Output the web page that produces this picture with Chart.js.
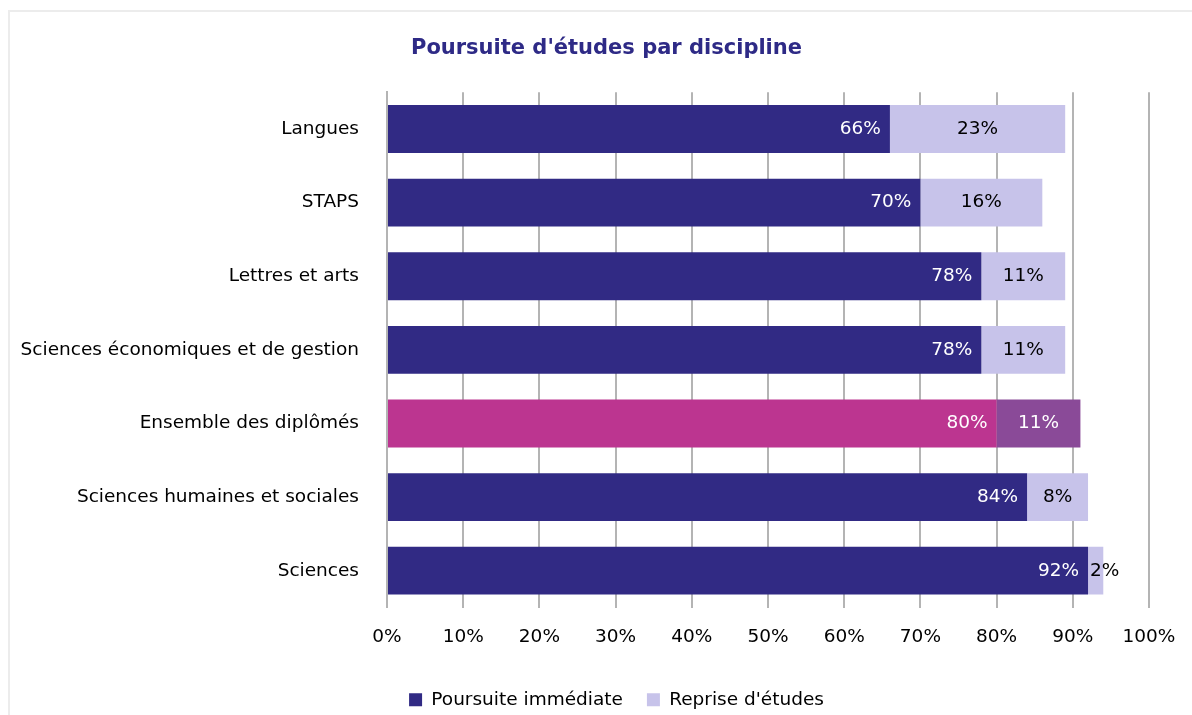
<!DOCTYPE html>
<html>
<head>
<meta charset="utf-8">
<script src="https://cdn.jsdelivr.net/npm/chart.js@4/dist/chart.umd.min.js"></script>
<style>
  body { margin: 0; background: #fff; overflow: hidden; }
  #frame { position: absolute; left: 8px; top: 10px; width: 1200px; height: 720px; border: 2px solid #ececec; }
  #wrap { position: absolute; left: 0; top: 0; width: 1192px; height: 715px; }
</style>
</head>
<body>
<div id="frame"></div>
<div id="wrap"><canvas id="chart"></canvas></div>
<script>
const categories = ['Langues', 'STAPS', 'Lettres et arts', 'Sciences économiques et de gestion',
    'Ensemble des diplômés', 'Sciences humaines et sociales', 'Sciences'];
const immediate = [66, 70, 78, 78, 80, 84, 92];
const reprise = [23, 16, 11, 11, 11, 8, 2];
const xTicks = [0, 10, 20, 30, 40, 50, 60, 70, 80, 90, 100];

const FONT = 'DejaVu Sans';
const SIZE = 18.5;
const navy = '#312a84';
const lavender = '#c7c3ea';

// "Ensemble" row gets its own colours
const immColors = categories.map(c => c === 'Ensemble des diplômés' ? '#bc3590' : navy);
const repColors = categories.map(c => c === 'Ensemble des diplômés' ? '#8a4a98' : lavender);

// value labels: first series right-aligned inside, second centered (or after bar start if too narrow)
const barLabels = {
    id: 'barLabels',
    afterDatasetsDraw(chart) {
        const ctx = chart.ctx;
        ctx.save();
        ctx.font = SIZE + 'px ' + FONT;
        ctx.textBaseline = 'middle';
        chart.data.datasets.forEach((ds, di) => {
            const meta = chart.getDatasetMeta(di);
            meta.data.forEach((bar, i) => {
                const txt = ds.data[i] + '%';
                const w = ctx.measureText(txt).width;
                const left = Math.min(bar.x, bar.base), right = Math.max(bar.x, bar.base);
                if (di === 0) {
                    ctx.fillStyle = '#ffffff';
                    ctx.textAlign = 'right';
                    ctx.fillText(txt, right - 9, bar.y);
                } else {
                    const isEns = categories[i] === 'Ensemble des diplômés';
                    ctx.fillStyle = isEns ? '#ffffff' : '#000000';
                    if (w + 6 > right - left) {
                        ctx.textAlign = 'left';
                        ctx.fillText(txt, left + 2, bar.y);
                    } else {
                        ctx.textAlign = 'center';
                        ctx.fillText(txt, (left + right) / 2, bar.y);
                    }
                }
            });
        });
        ctx.restore();
    }
};

// title and legend sit a bit right of the canvas centre in the original
const shiftBoxes = {
    id: 'shiftBoxes',
    afterLayout(chart) {
        if (chart.titleBlock) { chart.titleBlock.left += 32; chart.titleBlock.right += 32; }
        if (chart.legend) { chart.legend.left += 42; chart.legend.right += 42; }
    }
};

new Chart(document.getElementById('chart'), {
    type: 'bar',
    data: {
        labels: categories,
        datasets: [
            { label: 'Poursuite immédiate', data: immediate, backgroundColor: immColors },
            { label: "Reprise d'études", data: reprise, backgroundColor: repColors }
        ]
    },
    options: {
        indexAxis: 'y',
        responsive: true,
        maintainAspectRatio: false,
        animation: false,
        categoryPercentage: 0.65,
        barPercentage: 1,
        layout: { padding: { left: 0, right: 43, top: 10, bottom: -4 } },
        plugins: {
            title: {
                display: true,
                text: "Poursuite d'études par discipline",
                color: '#2e2a86',
                font: { family: FONT, size: 21, weight: 'bold' },
                padding: { top: 26, bottom: 31 }
            },
            legend: {
                position: 'bottom',
                labels: {
                    color: '#000',
                    font: { family: FONT, size: SIZE },
                    boxWidth: 13,
                    boxHeight: 13,
                    padding: 24,
                    generateLabels(chart) {
                        return [
                            { text: 'Poursuite immédiate', fillStyle: navy, strokeStyle: navy, lineWidth: 0, datasetIndex: 0 },
                            { text: "Reprise d'études", fillStyle: lavender, strokeStyle: lavender, lineWidth: 0, datasetIndex: 1 }
                        ];
                    }
                }
            },
            tooltip: { enabled: false }
        },
        scales: {
            x: {
                stacked: true,
                min: 0,
                max: 100,
                afterBuildTicks(scale) { scale.ticks = xTicks.map(v => ({ value: v })); },
                afterFit(scale) { scale.height = 59; scale.paddingRight = 0; scale.paddingLeft = 0; },
                grid: { color: '#b4b4b4', lineWidth: 2, drawTicks: false },
                border: { display: false },
                ticks: {
                    color: '#000',
                    font: { family: FONT, size: SIZE },
                    padding: 19,
                    callback: v => v + '%'
                }
            },
            y: {
                stacked: true,
                afterFit(scale) { scale.width = 387; },
                grid: { display: false },
                border: { display: true, color: '#b4b4b4', width: 2 },
                ticks: { color: '#000', font: { family: FONT, size: SIZE }, padding: 20 }
            }
        }
    },
    plugins: [barLabels, shiftBoxes]
});
</script>
</body>
</html>
